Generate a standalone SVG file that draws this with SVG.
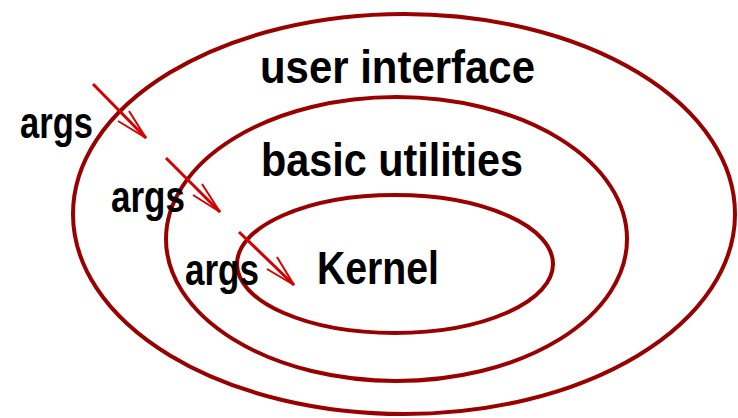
<svg xmlns="http://www.w3.org/2000/svg" width="738" height="418" viewBox="0 0 738 418">
<style>
.ring{fill:none;stroke:#990000;stroke-width:4}
.lbl{font-family:"Liberation Sans",Arial,sans-serif;font-weight:bold;font-size:47px;fill:#000}
.arg{font-family:"Liberation Sans",Arial,sans-serif;font-weight:bold;font-size:45px;fill:#000}
.shaft{stroke:#d40000;stroke-width:3;fill:none}
.barb{stroke:#d40000;stroke-width:2;fill:none}
</style>
<rect width="738" height="418" fill="#fff"/>
<g id="ui">
<ellipse class="ring" cx="404" cy="214" rx="331" ry="200"/>
<text class="lbl" x="260" y="83" textLength="275" lengthAdjust="spacingAndGlyphs">user interface</text>
</g>
<g id="utilities">
<ellipse class="ring" cx="396.5" cy="239" rx="230.5" ry="142"/>
<text class="lbl" x="261" y="176" textLength="262" lengthAdjust="spacingAndGlyphs">basic utilities</text>
</g>
<g id="kernel">
<ellipse class="ring" cx="395" cy="264" rx="158" ry="69"/>
<text class="lbl" x="317" y="284" textLength="122" lengthAdjust="spacingAndGlyphs">Kernel</text>
</g>
<g id="args1"><text class="arg" x="20" y="138" textLength="73" lengthAdjust="spacingAndGlyphs">args</text></g>
<g id="args2"><text class="arg" x="111" y="212" textLength="74" lengthAdjust="spacingAndGlyphs">args</text></g>
<g id="args3"><text class="arg" x="185" y="285" textLength="74" lengthAdjust="spacingAndGlyphs">args</text></g>
<g id="connectors">
<line class="shaft" x1="93" y1="84" x2="146" y2="138"/>
<polyline class="barb" points="129,111 146,138 118,121"/>
<line class="shaft" x1="166" y1="158" x2="220" y2="212"/>
<polyline class="barb" points="202,184 220,212 193,195"/>
<line class="shaft" x1="239" y1="232" x2="294" y2="285"/>
<polyline class="barb" points="277,257 294,285 267,269"/>
</g>
</svg>
